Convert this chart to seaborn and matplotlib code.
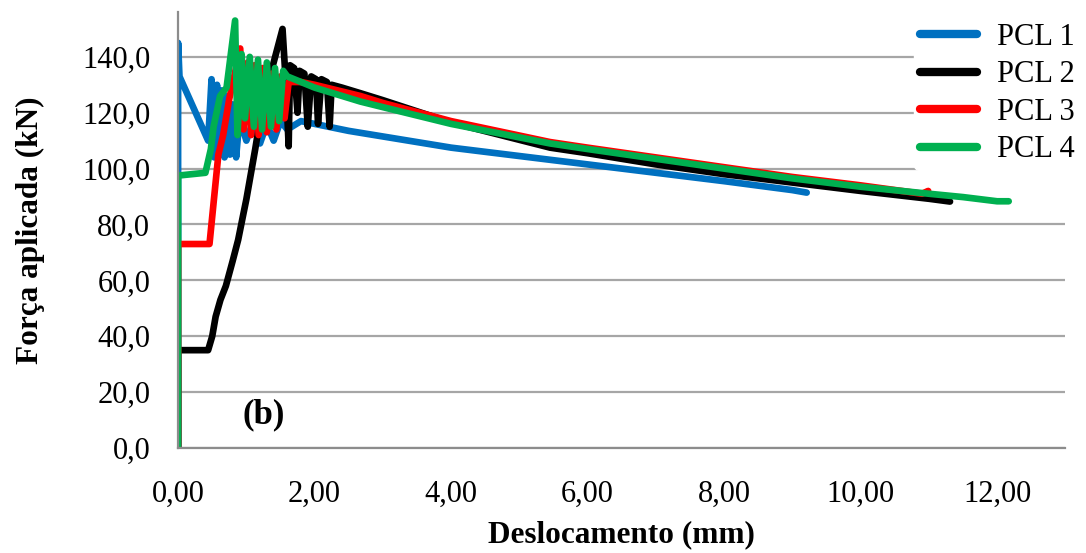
import numpy as np
import pandas as pd
import matplotlib
matplotlib.use("Agg")
import matplotlib.pyplot as plt
import seaborn as sns
from matplotlib.ticker import FuncFormatter

# ---- data ----
series_names = ["PCL 1", "PCL 2", "PCL 3", "PCL 4"]
series_colors = ["#0070C0", "#000000", "#FF0000", "#00B050"]

pcl1_x = [0.00, 0.00, 0.02, 0.44, 0.49, 0.53, 0.57, 0.60, 0.64, 0.68, 0.72, 0.76, 0.80, 0.85,
          0.90, 1.00, 1.10, 1.20, 1.30, 1.40, 1.50, 1.60, 1.80, 2.00, 2.50, 3.00, 3.50, 4.00,
          5.00, 6.00, 7.00, 8.00, 9.00, 9.21]
pcl1_y = [0.0, 145.0, 133.0, 110.0, 132.0, 104.0, 130.0, 106.0, 128.0, 104.0, 126.0, 105.0, 123.0, 104.0,
          118.0, 110.0, 117.0, 109.0, 116.0, 110.0, 117.0, 114.0, 117.0, 116.0, 113.5, 111.5, 109.5, 107.5,
          104.5, 101.5, 98.5, 95.5, 92.3, 91.4]

pcl2_x = [0.00, 0.00, 0.44, 0.50, 0.55, 0.62, 0.70, 0.80, 0.88, 0.95, 1.00, 1.13, 1.25, 1.40,
          1.53, 1.58, 1.62, 1.64, 1.70, 1.75, 1.78, 1.85, 1.90, 1.95, 2.02, 2.05, 2.10, 2.18,
          2.22, 2.25, 2.40, 2.67, 3.00, 4.00, 5.45, 6.00, 7.00, 8.00, 9.00, 10.00, 11.00, 11.31]
pcl2_y = [0.0, 35.0, 35.0, 40.0, 47.0, 53.0, 58.0, 67.0, 74.5, 83.0, 89.0, 107.0, 125.0, 138.0,
          150.0, 130.0, 108.0, 137.0, 136.0, 120.0, 135.0, 134.0, 115.0, 133.0, 132.0, 116.0, 132.0, 131.0,
          115.0, 130.0, 129.0, 127.0, 124.5, 116.5, 107.5, 105.5, 101.5, 98.0, 95.0, 92.0, 89.2, 88.2]

pcl3_x = [0.00, 0.00, 0.46, 0.59, 0.66, 0.75, 0.91, 0.96, 1.02, 1.07, 1.12, 1.18, 1.24, 1.30,
          1.37, 1.44, 1.50, 1.56, 1.62, 1.80, 2.00, 2.67, 3.00, 4.00, 5.45, 6.00, 7.00, 8.00,
          9.00, 10.00, 10.90, 10.99]
pcl3_y = [0.0, 73.0, 73.0, 105.0, 112.0, 125.0, 143.0, 114.0, 138.0, 112.0, 137.0, 112.0, 136.0, 113.0,
          134.0, 114.0, 133.0, 118.0, 131.0, 131.0, 130.0, 126.0, 123.5, 117.0, 109.5, 107.5, 104.0, 100.5,
          97.0, 94.0, 91.0, 92.0]

pcl4_x = [0.00, 0.00, 0.40, 0.48, 0.52, 0.615, 0.71, 0.835, 0.87, 0.93, 0.98, 1.05, 1.11, 1.17,
          1.23, 1.30, 1.36, 1.42, 1.48, 1.54, 1.60, 2.00, 2.67, 3.00, 4.00, 5.45, 6.00, 7.00,
          8.00, 9.00, 10.00, 11.00, 11.50, 12.00, 12.17]
pcl4_y = [0.0, 97.5, 98.5, 107.0, 115.0, 126.0, 129.0, 153.0, 112.0, 141.0, 118.0, 140.0, 115.0, 139.0,
          114.0, 138.0, 115.0, 136.0, 117.0, 135.0, 133.0, 129.0, 124.0, 122.0, 116.0, 109.0, 107.0, 103.5,
          100.0, 96.5, 93.5, 91.0, 89.8, 88.3, 88.3]

y_ticks = [0, 20, 40, 60, 80, 100, 120, 140]
x_ticks = [0, 2, 4, 6, 8, 10, 12]

frames = []
for name, xs, ys in zip(series_names,
                        [pcl1_x, pcl2_x, pcl3_x, pcl4_x],
                        [pcl1_y, pcl2_y, pcl3_y, pcl4_y]):
    frames.append(pd.DataFrame({"x": xs, "y": ys, "serie": name}))
df = pd.concat(frames, ignore_index=True)

sns.set_style("white")
plt.rcParams['font.family'] = ['Liberation Serif', 'DejaVu Serif']
plt.rcParams['text.color'] = 'black'
plt.rcParams['axes.labelcolor'] = 'black'

fig = plt.figure(figsize=(10.86, 5.53), dpi=100)
ax = fig.add_axes([0.164, 0.19, 0.817, 0.788])

sns.lineplot(data=df, x="x", y="y", hue="serie", hue_order=series_names,
             palette=dict(zip(series_names, series_colors)), sort=False,
             estimator=None, units="serie", linewidth=4.8, ax=ax,
             solid_joinstyle="round", solid_capstyle="round", legend=True)

ax.set_xlim(0, 13.0)
ax.set_ylim(0, 156)
ax.set_xticks(x_ticks)
ax.set_yticks(y_ticks)
ax.xaxis.set_major_formatter(FuncFormatter(lambda v, p: f"{v:.2f}".replace(".", ",")))
ax.yaxis.set_major_formatter(FuncFormatter(lambda v, p: f"{v:.1f}".replace(".", ",")))
ax.grid(axis="y", color="#A6A6A6", linewidth=1.6)
ax.set_axisbelow(True)
for s in ["top", "right"]:
    ax.spines[s].set_visible(False)
for s in ["left", "bottom"]:
    ax.spines[s].set_color("#8C8C8C")
    ax.spines[s].set_linewidth(1.6)
ax.tick_params(axis="both", direction="out", length=7, width=1.2, color="#8C8C8C",
               labelsize=22, labelcolor="black")
ax.tick_params(axis="y", pad=13)
ax.tick_params(axis="x", pad=16)

ax.set_xlabel("Deslocamento (mm)", fontsize=22.5, fontweight="bold", labelpad=8)
ax.set_ylabel("Força aplicada (kN)", fontsize=22.5, fontweight="bold", labelpad=27)

ax.text(1.25, 11.8, "(b)", fontsize=25, fontweight="bold", ha="center", va="center")

leg = ax.legend(loc="upper left", bbox_to_anchor=(0.8416, 0.970), bbox_transform=fig.transFigure,
                frameon=True, fontsize=22, handlelength=1.87, handletextpad=0.65,
                labelspacing=0.28, borderaxespad=0.0, borderpad=0.2)
leg.get_frame().set_edgecolor("white")
leg.get_frame().set_facecolor("white")
leg.get_frame().set_alpha(1.0)
for line in leg.get_lines():
    line.set_linewidth(6)
    line.set_solid_capstyle("round")
for t in leg.get_texts():
    t.set_color("black")
leg.set_title(None)

fig.savefig("out.png", dpi=100, facecolor="white")
